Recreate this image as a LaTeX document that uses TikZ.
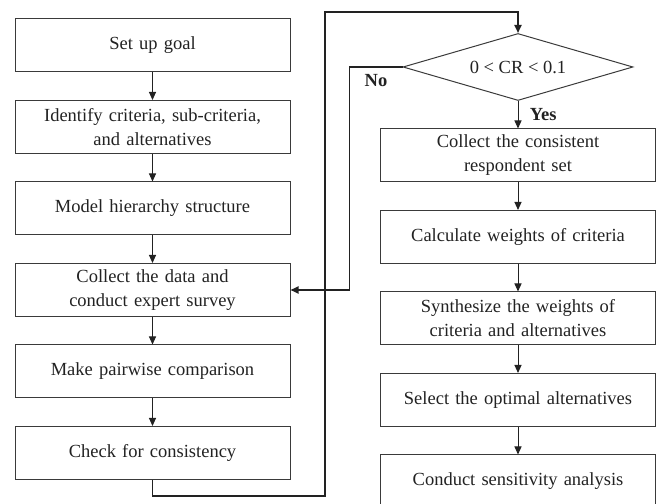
\documentclass[tikz,border=0pt]{standalone}
\usepackage{fontspec}
\setmainfont{Liberation Serif}
\usepackage{xcolor}
\usetikzlibrary{shapes.geometric, arrows.meta, positioning}

\definecolor{edgegray}{HTML}{3A3A3A}
\definecolor{textgray}{HTML}{222222}

\begin{document}
\begin{tikzpicture}[
    x=1pt, y=1pt,
    node distance=27.5pt,
    block/.style={rectangle, draw=edgegray, line width=1pt, text=textgray, text width=262pt, align=center, minimum width=275pt, minimum height=53pt, inner sep=2pt, font=\fontsize{18.5}{24}\selectfont},
    decision/.style={diamond, aspect=3.43, draw=edgegray, line width=1pt, text=textgray, minimum width=230pt, minimum height=67pt, inner sep=0pt, font=\fontsize{18.5}{24}\selectfont},
    line/.style={draw=textgray, line width=1pt, -{Triangle[length=8pt, width=7pt]}},
    loopline/.style={draw=textgray, line width=1.8pt, -{Triangle[length=8pt, width=7pt]}},
    answer/.style={text=textgray, font=\fontsize{18.5}{24}\selectfont\bfseries}
    ]
    \useasboundingbox (0,0) rectangle (658,503);

    % Left column: preparing the comparison
    \node [block] at (152.5,457.5) (goal) {Set up goal};
    \node [block, below=of goal] (identify) {Identify criteria, sub-criteria,\\and alternatives};
    \node [block, below=of identify] (model) {Model hierarchy structure};
    \node [block, below=of model] (collect) {Collect the data and\\conduct expert survey};
    \node [block, below=of collect] (pairwise) {Make pairwise comparison};
    \node [block, below=of pairwise] (check) {Check for consistency};

    % Right column: consistency test and results
    \node [decision] at (518,436) (crtest) {0 < CR < 0.1};
    \node [block, below=of crtest] (consistent) {Collect the consistent\\respondent set};
    \node [block, below=of consistent] (weights) {Calculate weights of criteria};
    \node [block, below=of weights] (synth) {Synthesize the weights of\\criteria and alternatives};
    \node [block, below=of synth] (select) {Select the optimal alternatives};
    \node [block, below=of select] (sensitivity) {Conduct sensitivity analysis};

    \coordinate (topbend) at (325,491);

    % Draw edges
    \path [line] (goal) -- (identify);
    \path [line] (identify) -- (model);
    \path [line] (model) -- (collect);
    \path [line] (collect) -- (pairwise);
    \path [line] (pairwise) -- (check);
    \path [loopline] (check.south) -- ++(0,-16) -| (topbend) -| (crtest.north);
    \path [loopline] (crtest.west) -- node [answer, below=3pt] {No} ++(-53,0) |- (collect.east);
    \path [line] (crtest) -- node [answer, right=8pt] {Yes} (consistent);
    \path [line] (consistent) -- (weights);
    \path [line] (weights) -- (synth);
    \path [line] (synth) -- (select);
    \path [line] (select) -- (sensitivity);

\end{tikzpicture}
\end{document}
